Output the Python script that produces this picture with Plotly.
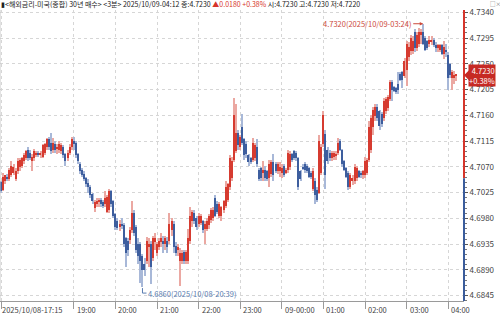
import plotly.graph_objects as go

# ---------------- data ----------------
header_name = "<해외금리-미국(종합) 30년 매수>"
header_period = "<3분>"
last_time = "2025/10/09-04:12"
change = 0.0180
change_pct = 0.38

opens = [
    4.7043, 4.7030, 4.7045, 4.7052, 4.7048, 4.7055, 4.7060, 4.7048, 4.7062, 4.7070,
    4.7072, 4.7080, 4.7085, 4.7100, 4.7095, 4.7080, 4.7085, 4.7092, 4.7095, 4.7092,
    4.7088, 4.7095, 4.7105, 4.7118, 4.7112, 4.7100, 4.7110, 4.7102, 4.7100, 4.7098,
    4.7105, 4.7092, 4.7085, 4.7095, 4.7105, 4.7115, 4.7112, 4.7092, 4.7075, 4.7065,
    4.7058, 4.7050, 4.7042, 4.7035, 4.7022, 4.6998, 4.7005, 4.7008, 4.7012, 4.7008,
    4.7005, 4.6992, 4.6995, 4.7028, 4.7010, 4.6988, 4.6975, 4.6965, 4.6970, 4.6968,
    4.6945, 4.6940, 4.6942, 4.6960, 4.6990, 4.6965, 4.6935, 4.6935, 4.6915, 4.6900,
    4.6905, 4.6930, 4.6935, 4.6910, 4.6938, 4.6920, 4.6930, 4.6938, 4.6940, 4.6935,
    4.6940, 4.6940, 4.6960, 4.6970, 4.6932, 4.6925, 4.6905, 4.6905, 4.6922, 4.6905,
    4.6905, 4.6940, 4.6975, 4.6990, 4.6980, 4.6970, 4.6972, 4.6975, 4.6962, 4.6962,
    4.6968, 4.6978, 4.6980, 4.7015, 4.7005, 4.6985, 4.6985, 4.6995, 4.7002, 4.7012,
    4.7035, 4.7050, 4.7082, 4.7098, 4.7130, 4.7105, 4.7140, 4.7118, 4.7110, 4.7090,
    4.7085, 4.7082, 4.7085, 4.7105, 4.7065, 4.7068, 4.7060, 4.7065, 4.7062, 4.7050,
    4.7058, 4.7078, 4.7075, 4.7062, 4.7062, 4.7060, 4.7072, 4.7060, 4.7065, 4.7070,
    4.7092, 4.7098, 4.7095, 4.7085, 4.7062, 4.7070, 4.7075, 4.7072, 4.7068, 4.7060,
    4.7032, 4.7045, 4.7030, 4.7025, 4.7060, 4.7110, 4.7128, 4.7100, 4.7095, 4.7085,
    4.7088, 4.7090, 4.7095, 4.7115, 4.7100, 4.7080, 4.7068, 4.7060, 4.7035, 4.7045,
    4.7045, 4.7050, 4.7062, 4.7060, 4.7055, 4.7055, 4.7060, 4.7082, 4.7100, 4.7140,
    4.7158, 4.7175, 4.7168, 4.7162, 4.7155, 4.7168, 4.7172, 4.7188, 4.7218, 4.7210,
    4.7208, 4.7215, 4.7232, 4.7235, 4.7228, 4.7240, 4.7262, 4.7272, 4.7272, 4.7305,
    4.7278, 4.7285, 4.7300, 4.7305, 4.7295, 4.7290, 4.7285, 4.7288, 4.7292, 4.7282,
    4.7278, 4.7275, 4.7282, 4.7268, 4.7275, 4.7265, 4.7250, 4.7225, 4.7225, 4.7230,
]
highs = [
    4.7045, 4.7060, 4.7055, 4.7058, 4.7068, 4.7080, 4.7075, 4.7068, 4.7085, 4.7085,
    4.7088, 4.7095, 4.7100, 4.7105, 4.7100, 4.7092, 4.7102, 4.7098, 4.7098, 4.7098,
    4.7110, 4.7112, 4.7120, 4.7122, 4.7130, 4.7120, 4.7115, 4.7110, 4.7115, 4.7112,
    4.7108, 4.7095, 4.7100, 4.7110, 4.7122, 4.7122, 4.7115, 4.7095, 4.7078, 4.7068,
    4.7062, 4.7052, 4.7048, 4.7038, 4.7025, 4.7012, 4.7015, 4.7015, 4.7015, 4.7012,
    4.7028, 4.7020, 4.7032, 4.7030, 4.7012, 4.6990, 4.6980, 4.6978, 4.6980, 4.6972,
    4.6948, 4.6945, 4.6965, 4.7010, 4.6995, 4.6968, 4.6945, 4.6938, 4.6918, 4.6910,
    4.6948, 4.6945, 4.6940, 4.6950, 4.6955, 4.6938, 4.6945, 4.6955, 4.6950, 4.6950,
    4.6948, 4.6990, 4.6980, 4.6975, 4.6938, 4.6935, 4.6928, 4.6925, 4.6925, 4.6925,
    4.6962, 4.7000, 4.6995, 4.6995, 4.6985, 4.6990, 4.6988, 4.6978, 4.6975, 4.6980,
    4.6988, 4.6998, 4.7000, 4.7020, 4.7010, 4.7008, 4.7002, 4.7012, 4.7045, 4.7042,
    4.7090, 4.7088, 4.7190, 4.7180, 4.7135, 4.7125, 4.7162, 4.7120, 4.7115, 4.7092,
    4.7088, 4.7120, 4.7112, 4.7118, 4.7068, 4.7070, 4.7080, 4.7072, 4.7065, 4.7082,
    4.7082, 4.7092, 4.7078, 4.7078, 4.7078, 4.7075, 4.7075, 4.7068, 4.7100, 4.7098,
    4.7095, 4.7100, 4.7098, 4.7088, 4.7065, 4.7075, 4.7078, 4.7075, 4.7070, 4.7062,
    4.7068, 4.7050, 4.7035, 4.7125, 4.7110, 4.7168, 4.7135, 4.7105, 4.7100, 4.7098,
    4.7098, 4.7098, 4.7120, 4.7118, 4.7102, 4.7082, 4.7070, 4.7062, 4.7060, 4.7055,
    4.7075, 4.7072, 4.7065, 4.7062, 4.7065, 4.7088, 4.7085, 4.7150, 4.7160, 4.7175,
    4.7180, 4.7180, 4.7170, 4.7165, 4.7190, 4.7192, 4.7195, 4.7222, 4.7222, 4.7212,
    4.7210, 4.7235, 4.7235, 4.7238, 4.7260, 4.7290, 4.7288, 4.7300, 4.7298, 4.7310,
    4.7305, 4.7312, 4.7310, 4.7320, 4.7298, 4.7292, 4.7298, 4.7298, 4.7295, 4.7288,
    4.7285, 4.7285, 4.7285, 4.7290, 4.7285, 4.7270, 4.7252, 4.7240, 4.7238, 4.7230,
]
lows = [
    4.7025, 4.7028, 4.7040, 4.7045, 4.7045, 4.7052, 4.7055, 4.7045, 4.7058, 4.7062,
    4.7068, 4.7075, 4.7082, 4.7080, 4.7082, 4.7062, 4.7080, 4.7088, 4.7088, 4.7085,
    4.7085, 4.7090, 4.7100, 4.7100, 4.7092, 4.7095, 4.7095, 4.7092, 4.7095, 4.7092,
    4.7085, 4.7072, 4.7080, 4.7090, 4.7100, 4.7100, 4.7085, 4.7075, 4.7058, 4.7052,
    4.7045, 4.7035, 4.7025, 4.7015, 4.7005, 4.6992, 4.7000, 4.7000, 4.7000, 4.6998,
    4.7000, 4.6990, 4.6990, 4.7000, 4.6980, 4.6960, 4.6960, 4.6958, 4.6962, 4.6930,
    4.6895, 4.6915, 4.6935, 4.6955, 4.6950, 4.6920, 4.6900, 4.6868, 4.6860, 4.6880,
    4.6900, 4.6895, 4.6865, 4.6905, 4.6925, 4.6915, 4.6925, 4.6930, 4.6920, 4.6925,
    4.6920, 4.6935, 4.6950, 4.6920, 4.6915, 4.6915, 4.6862, 4.6900, 4.6900, 4.6900,
    4.6900, 4.6935, 4.6965, 4.6970, 4.6960, 4.6965, 4.6968, 4.6955, 4.6935, 4.6958,
    4.6962, 4.6972, 4.6975, 4.6982, 4.6988, 4.6980, 4.6975, 4.6990, 4.6998, 4.7008,
    4.7030, 4.7045, 4.7078, 4.7095, 4.7100, 4.7100, 4.7108, 4.7082, 4.7085, 4.7072,
    4.7075, 4.7078, 4.7080, 4.7070, 4.7045, 4.7045, 4.7045, 4.7045, 4.7045, 4.7035,
    4.7052, 4.7045, 4.7060, 4.7058, 4.7052, 4.7050, 4.7052, 4.7058, 4.7060, 4.7065,
    4.7078, 4.7082, 4.7080, 4.7030, 4.7045, 4.7065, 4.7060, 4.7060, 4.7050, 4.7048,
    4.7028, 4.7005, 4.7008, 4.7022, 4.7055, 4.7105, 4.7032, 4.7075, 4.7080, 4.7080,
    4.7082, 4.7082, 4.7090, 4.7098, 4.7070, 4.7062, 4.7050, 4.7030, 4.7032, 4.7038,
    4.7040, 4.7045, 4.7050, 4.7050, 4.7048, 4.7050, 4.7055, 4.7078, 4.7095, 4.7125,
    4.7150, 4.7150, 4.7135, 4.7140, 4.7150, 4.7162, 4.7168, 4.7185, 4.7185, 4.7200,
    4.7198, 4.7198, 4.7220, 4.7208, 4.7225, 4.7212, 4.7255, 4.7265, 4.7268, 4.7270,
    4.7272, 4.7280, 4.7285, 4.7282, 4.7272, 4.7275, 4.7280, 4.7282, 4.7280, 4.7270,
    4.7270, 4.7270, 4.7265, 4.7258, 4.7262, 4.7205, 4.7225, 4.7205, 4.7215, 4.7220,
]
closes = [
    4.7028, 4.7052, 4.7055, 4.7050, 4.7065, 4.7072, 4.7070, 4.7062, 4.7080, 4.7082,
    4.7085, 4.7090, 4.7098, 4.7085, 4.7085, 4.7088, 4.7098, 4.7095, 4.7092, 4.7095,
    4.7108, 4.7110, 4.7118, 4.7105, 4.7098, 4.7112, 4.7100, 4.7105, 4.7110, 4.7108,
    4.7090, 4.7080, 4.7095, 4.7105, 4.7118, 4.7110, 4.7090, 4.7080, 4.7062, 4.7055,
    4.7048, 4.7040, 4.7035, 4.7020, 4.7010, 4.7008, 4.7010, 4.7012, 4.7005, 4.7002,
    4.7015, 4.7018, 4.7028, 4.7005, 4.6985, 4.6965, 4.6963, 4.6970, 4.6968, 4.6935,
    4.6920, 4.6925, 4.6960, 4.6990, 4.6955, 4.6925, 4.6915, 4.6905, 4.6890, 4.6890,
    4.6940, 4.6935, 4.6895, 4.6945, 4.6945, 4.6935, 4.6940, 4.6945, 4.6935, 4.6945,
    4.6930, 4.6970, 4.6975, 4.6930, 4.6920, 4.6930, 4.6920, 4.6920, 4.6905, 4.6922,
    4.6945, 4.6985, 4.6992, 4.6975, 4.6965, 4.6985, 4.6985, 4.6960, 4.6970, 4.6975,
    4.6985, 4.6995, 4.6995, 4.6985, 4.6992, 4.7005, 4.7000, 4.7010, 4.7035, 4.7040,
    4.7085, 4.7080, 4.7160, 4.7130, 4.7108, 4.7122, 4.7112, 4.7090, 4.7092, 4.7078,
    4.7078, 4.7112, 4.7108, 4.7075, 4.7048, 4.7050, 4.7065, 4.7050, 4.7048, 4.7075,
    4.7078, 4.7055, 4.7062, 4.7075, 4.7070, 4.7068, 4.7055, 4.7065, 4.7095, 4.7092,
    4.7082, 4.7085, 4.7085, 4.7035, 4.7048, 4.7068, 4.7065, 4.7062, 4.7052, 4.7052,
    4.7062, 4.7020, 4.7012, 4.7115, 4.7105, 4.7160, 4.7055, 4.7080, 4.7085, 4.7095,
    4.7095, 4.7092, 4.7112, 4.7100, 4.7075, 4.7065, 4.7052, 4.7035, 4.7055, 4.7050,
    4.7070, 4.7068, 4.7052, 4.7055, 4.7062, 4.7080, 4.7082, 4.7140, 4.7155, 4.7170,
    4.7175, 4.7155, 4.7142, 4.7145, 4.7185, 4.7188, 4.7192, 4.7218, 4.7205, 4.7202,
    4.7200, 4.7205, 4.7222, 4.7222, 4.7255, 4.7285, 4.7280, 4.7295, 4.7290, 4.7278,
    4.7300, 4.7305, 4.7305, 4.7285, 4.7275, 4.7278, 4.7292, 4.7292, 4.7282, 4.7278,
    4.7282, 4.7282, 4.7268, 4.7280, 4.7270, 4.7225, 4.7230, 4.7235, 4.7230, 4.7230,
]

x_tick_index = [0, 35, 55, 75, 95, 115, 135, 155, 175, 195, 215]
x_tick_labels = ["2025/10/08-17:15", "19:00", "20:00", "21:00", "22:00", "23:00",
                 "09-00:00", "01:00", "02:00", "03:00", "04:00"]
y_tick_values = [4.6845, 4.6890, 4.6935, 4.6980, 4.7025, 4.7070,
                 4.7115, 4.7160, 4.7205, 4.7250, 4.7295, 4.7340]

max_index, max_price, max_time = 203, 4.7320, "2025/10/09-03:24"
min_index, min_price, min_time = 68, 4.6860, "2025/10/08-20:39"

# ---------------- derived ----------------
n = len(closes)
idx = list(range(n))
last = closes[-1]
prev_close = last - change
open_last, high_last, low_last = opens[-1], highs[-1], lows[-1]

RED = "#d63b30"
BLUE = "#3d5e9e"
RED_W = "#eba8a2"
BLUE_W = "#a8b8d8"

up = [c >= o for o, c in zip(opens, closes)]
body_base = [min(o, c) for o, c in zip(opens, closes)]
body_len = [max(abs(c - o), 0.00025) for o, c in zip(opens, closes)]
wick_len = [h - l for h, l in zip(highs, lows)]

Y_TOP = 4.73440
Y_BOT = 4.68357

FONT = "Noto Sans CJK KR"

fig = go.Figure()
fig.add_trace(go.Bar(
    x=idx, y=wick_len, base=lows, width=0.5,
    marker=dict(color=[RED_W if u else BLUE_W for u in up], line=dict(width=0)),
    hoverinfo="skip"))
fig.add_trace(go.Bar(
    x=idx, y=body_len, base=body_base, width=0.55,
    marker=dict(color=[RED if u else BLUE for u in up], line=dict(width=0)),
    hoverinfo="skip"))

fig.update_layout(
    width=500, height=314,
    margin=dict(l=0, r=36, t=10, b=13),
    paper_bgcolor="white", plot_bgcolor="white",
    showlegend=False, barmode="overlay", bargap=0,
    font=dict(family=FONT, size=8, color="#444"),
)
fig.update_xaxes(
    range=[-0.5, 222.6], tickmode="array", tickvals=x_tick_index,
    showticklabels=False, showgrid=True, gridcolor="#d6d6d6", griddash="dot",
    gridwidth=1, ticks="outside", ticklen=7, tickcolor="#9a9a9a",
    showline=True, linecolor="#9a9a9a", linewidth=1, zeroline=False,
)
fig.update_yaxes(
    side="right", range=[Y_BOT, Y_TOP], tickmode="array",
    tickvals=y_tick_values, ticktext=[f"{v:.4f}" for v in y_tick_values],
    tickfont=dict(family=FONT, size=8, color="#444"),
    ticks="outside", ticklen=3, tickcolor="#555",
    showgrid=True, gridcolor="#d6d6d6", griddash="dot", gridwidth=1,
    showline=False, zeroline=False,
    minor=dict(tickmode="linear", tick0=4.6845, dtick=0.0009, ticks="outside",
               ticklen=2, tickcolor="#777", showgrid=False),
)

shapes = [
    # right axis line: red above previous close, blue below
    dict(type="line", xref="paper", x0=1, x1=1, yref="y", y0=prev_close, y1=Y_TOP,
         line=dict(color="#d6352b", width=2)),
    dict(type="line", xref="paper", x0=1, x1=1, yref="y", y0=Y_BOT, y1=prev_close,
         line=dict(color="#3a5c9c", width=2)),
    # left border
    dict(type="line", xref="paper", x0=0, x1=0, yref="paper", y0=0, y1=1,
         line=dict(color="#c8c8c8", width=1)),
    # current price tag pointer
    dict(type="path", xref="paper", xsizemode="pixel", xanchor=1,
         yref="y", ysizemode="pixel", yanchor=last,
         path="M 0 0 L 5 5 L 5 -5 Z", fillcolor="#c62a24", line=dict(width=0)),
    # min marker bracket
    dict(type="path", xref="x", xsizemode="pixel", xanchor=min_index,
         yref="y", ysizemode="pixel", yanchor=min_price,
         path="M 0 -1 L 0 -6 L 4 -6", line=dict(color="#5a7db0", width=1)),
]
fig.update_layout(shapes=shapes)

ann = []
# x tick labels, left aligned at tick
for i, t in zip(x_tick_index, x_tick_labels):
    ann.append(dict(x=i, xref="x", y=0, yref="paper", text=t, showarrow=False,
                    xanchor="left", yanchor="top", xshift=-1 if i == 0 else 1,
                    yshift=-1, font=dict(family=FONT, size=7.5, color="#444")))
# header
header = (f"▮{header_name} {header_period} {last_time} 종:{last:.4f} "
          f"<span style='color:#d6352b'>▲{change:.4f} +{change_pct:.2f}%</span> "
          f"시:{open_last:.4f} 고:{high_last:.4f} 저:{low_last:.4f}")
ann.append(dict(x=0, xref="paper", y=1, yref="paper", text=header, showarrow=False,
                xanchor="left", yanchor="bottom", xshift=-1, yshift=-1,
                font=dict(family=FONT, size=7, color="#222")))
ann.append(dict(x=1, xref="paper", y=1, yref="paper", text="□×", showarrow=False,
                xanchor="left", yanchor="bottom", xshift=25, yshift=1,
                borderpad=0, font=dict(family=FONT, size=5.5, color="#777")))
# current price tag
ann.append(dict(x=1, xref="paper", y=last, yref="y",
                text=f"{last:.4f}<br>+{change_pct:.2f}%", showarrow=False,
                xanchor="left", yanchor="middle", xshift=4, align="right",
                bgcolor="#c62a24", borderpad=0,
                font=dict(family=FONT, size=7.5, color="white")))
# max annotation
ann.append(dict(x=max_index, xref="x", y=max_price, yref="y",
                text=f"{max_price:.4f}({max_time})", showarrow=True,
                ax=-10, ay=0, xanchor="right", arrowhead=2, arrowsize=0.7,
                arrowwidth=1, arrowcolor="#cc4a3c",
                font=dict(family=FONT, size=7.5, color="#cc4a3c")))
# min annotation
ann.append(dict(x=min_index, xref="x", y=min_price, yref="y",
                text=f"{min_price:.4f}({min_time})", showarrow=False,
                xanchor="left", yanchor="middle", xshift=4, yshift=-6,
                font=dict(family=FONT, size=7.5, color="#5a7db0")))
fig.update_layout(annotations=ann)

fig.write_html("out.html")
